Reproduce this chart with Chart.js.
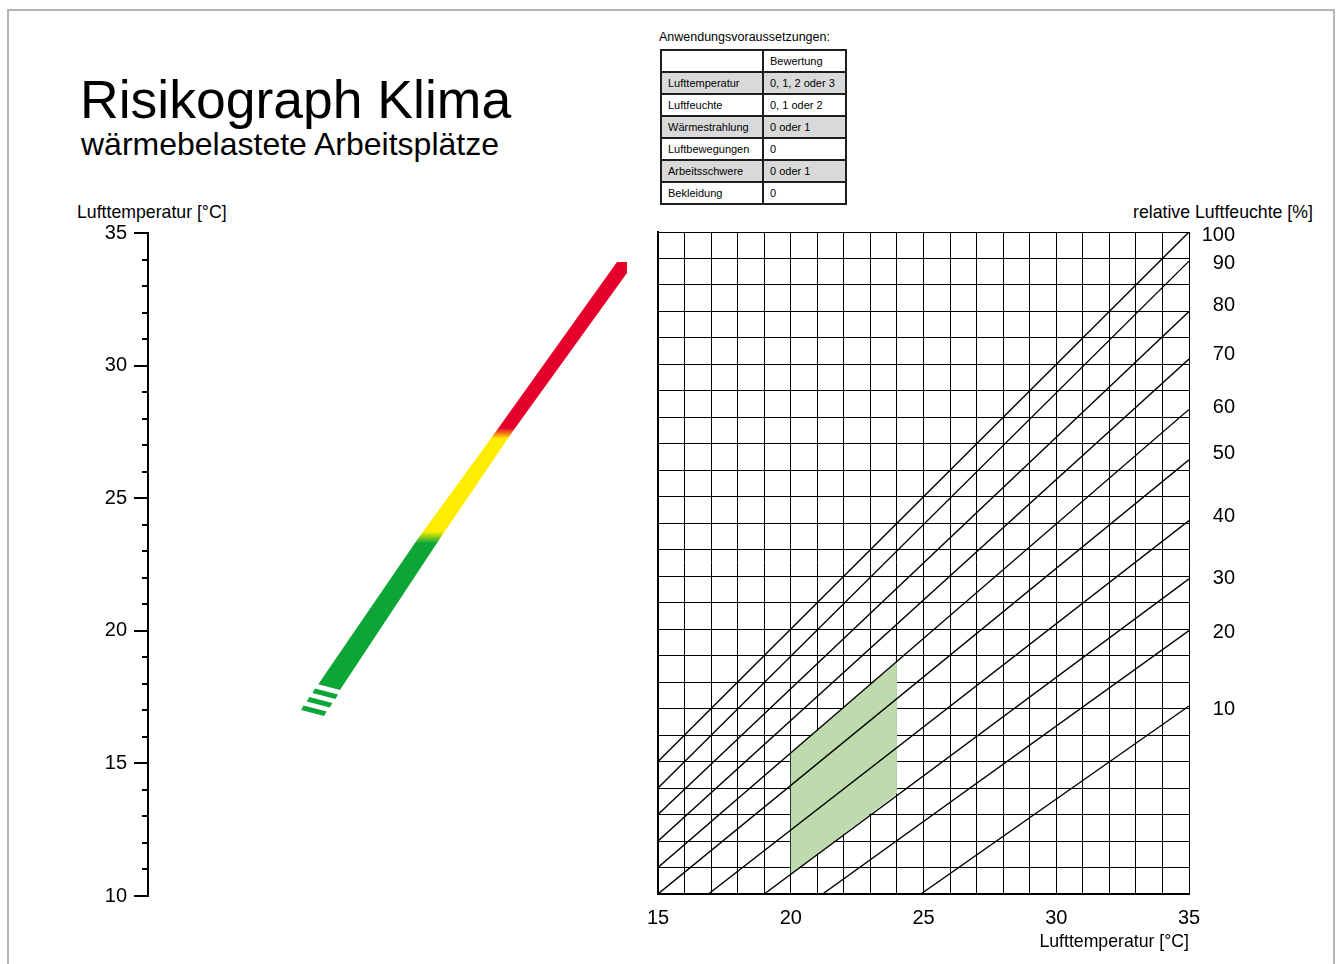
<!DOCTYPE html>
<html lang="de">
<head>
<meta charset="utf-8">
<title>Risikograph Klima</title>
<script src="https://cdn.jsdelivr.net/npm/chart.js@4.4.1/dist/chart.umd.min.js"></script>
<style>
    html, body { margin: 0; padding: 0; background: #fff; }
    body { width: 1338px; height: 964px; position: relative; overflow: hidden;
           font-family: "Liberation Sans", Arial, sans-serif; color: #000; }
    .frame { position: absolute; left: 7px; top: 9px; width: 1328px; height: 1100px;
             box-sizing: border-box; border: 2px solid #b4b4b4; }
    .txt { position: absolute; white-space: nowrap; line-height: 1; }
    #title { left: 80px; top: 73px; font-size: 53.5px; }
    #subtitle { left: 81px; top: 128px; font-size: 32px; }
    #tempTitle { left: 77px; top: 204px; font-size: 17.7px; }
    #rhTitle { left: 1133px; top: 204px; font-size: 17.7px; }
    #condTitle { left: 659px; top: 31px; font-size: 12.5px; }
    #cond { position: absolute; left: 660px; top: 49px; width: 185px; table-layout: fixed;
            border-collapse: collapse; font-size: 11px; }
    #cond td { border: 2px solid #1e1e1e; height: 20px; padding: 0 0 0 6px; line-height: 20px;
               white-space: nowrap; overflow: hidden; }
    #cond tr.shade td { background: #d9d9d9; }
    canvas { position: absolute; }
    #leftChart { left: 0; top: 190px; }
    #rightChart { left: 600px; top: 190px; }
</style>
</head>
<body>
<div class="frame"></div>
<div class="txt" id="title">Risikograph Klima</div>
<div class="txt" id="subtitle">wärmebelastete Arbeitsplätze</div>
<div class="txt" id="tempTitle">Lufttemperatur [°C]</div>
<div class="txt" id="rhTitle">relative Luftfeuchte [%]</div>
<div class="txt" id="condTitle">Anwendungsvoraussetzungen:</div>
<table id="cond">
    <colgroup><col style="width:102px"><col style="width:83px"></colgroup>
    <tbody id="condBody"></tbody>
</table>
<canvas id="leftChart" width="640" height="774"></canvas>
<canvas id="rightChart" width="738" height="774"></canvas>

<script>
/***  Risikograph Klima  ***/

/* Tabelle */
var condFactors = ['Lufttemperatur', 'Luftfeuchte', 'Wärmestrahlung', 'Luftbewegungen', 'Arbeitsschwere', 'Bekleidung'];
var condRatings = ['0, 1, 2 oder 3', '0, 1 oder 2', '0 oder 1', '0', '0 oder 1', '0'];
var condHeader = 'Bewertung';

/* linke Skala, Lufttemperatur in °C */
var tempMin = 10;
var tempMax = 35;
var tempMajorStep = 5;
var tempMinorStep = 1;

/* Farbband: x = relative Lage (0..100), y = °C */
var bandLeft = [[35.55, 17.98], [56.16, 23.42], [72.86, 27.57], [97.91, 33.91]];
var bandRight = [[100.0, 33.91], [100.0, 33.49], [76.20, 27.53], [60.75, 23.42], [40.08, 17.77]];
var bandZones = [23.3, 23.75, 27.25, 27.65];   // grün -> gelb, gelb -> rot
var stripes = [
    [[34.86, 17.82], [39.67, 17.60], [39.14, 17.43], [34.34, 17.65]],
    [[33.67, 17.50], [38.48, 17.28], [37.95, 17.11], [33.15, 17.33]],
    [[32.48, 17.18], [37.29, 16.96], [36.76, 16.79], [31.96, 17.01]]
];

/* rechtes Diagramm */
var airMin = 15;
var airMax = 35;
var rhLevels = [100, 90, 80, 70, 60, 50, 40, 30, 20, 10];
var rhStart = [[15, 15], [15, 14], [15, 13], [15, 12], [15, 11], [15, 10], [16.9, 10], [19.0, 10], [21.2, 10], [24.9, 10]];
var rhEnd = [[35, 35], [35, 33.9], [35, 32.0], [35, 30.2], [35, 28.3], [35, 26.4], [35, 24.1], [35, 21.9], [35, 19.95], [35, 17.1]];
var rhLabelAt = [34.86, 33.81, 32.22, 30.39, 28.37, 26.62, 24.24, 21.91, 19.89, 16.95];
var comfortZone = [[20, 15.3], [24, 18.75], [24, 13.8], [20, 10.76]];

function toPoints(list) {
    return list.map(function (p) { return { x: p[0], y: p[1] }; });
}

/* Tabelle aufbauen */
(function buildTable() {
    var body = document.getElementById('condBody');
    var html = '<tr><td></td><td>' + condHeader + '</td></tr>';
    for (var i = 0; i < condFactors.length; i++) {
        html += '<tr' + (i % 2 === 0 ? ' class="shade"' : '') + '><td>' + condFactors[i] + '</td><td>' + condRatings[i] + '</td></tr>';
    }
    body.innerHTML = html;
})();

Chart.defaults.font.family = '"Liberation Sans", Arial, sans-serif';
Chart.defaults.color = '#000';

var GREEN = '#0ca637', YELLOW = '#ffed00', RED = '#e4002b';

function bandColor(context) {
    var chart = context.chart;
    var y = chart.scales.y;
    if (!chart.chartArea || !y) return GREEN;
    var g = chart.ctx.createLinearGradient(0, y.getPixelForValue(tempMin), 0, y.getPixelForValue(tempMax));
    var f = function (t) { return (t - tempMin) / (tempMax - tempMin); };
    g.addColorStop(0, GREEN);
    g.addColorStop(f(bandZones[0]), GREEN);
    g.addColorStop(f(bandZones[1]), YELLOW);
    g.addColorStop(f(bandZones[2]), YELLOW);
    g.addColorStop(f(bandZones[3]), RED);
    g.addColorStop(1, RED);
    return g;
}

/* linkes Diagramm: Skala + Farbband */
var leftSets = [{
    data: toPoints(bandLeft.concat(bandRight)),
    showLine: true,
    fill: 'shape',
    backgroundColor: bandColor,
    borderColor: 'transparent',
    borderWidth: 0,
    clip: 0
}];
stripes.forEach(function (s) {
    leftSets.push({
        data: toPoints(s),
        showLine: true,
        fill: 'shape',
        backgroundColor: GREEN,
        borderColor: 'transparent',
        borderWidth: 0,
        clip: 0
    });
});

new Chart(document.getElementById('leftChart'), {
    type: 'scatter',
    data: { datasets: leftSets },
    options: {
        responsive: false,
        animation: false,
        events: [],
        layout: { padding: { left: 60, top: 43, right: 13, bottom: 68 } },
        elements: { point: { radius: 0 } },
        plugins: { legend: { display: false }, tooltip: { enabled: false } },
        scales: {
            x: { type: 'linear', display: false, min: 0, max: 100 },
            y: {
                type: 'linear', position: 'left', weight: 1, min: tempMin, max: tempMax,
                ticks: { stepSize: tempMajorStep, padding: 7, color: '#000', font: { size: 20 } },
                grid: { drawOnChartArea: false, drawTicks: true, tickLength: 14, color: '#000', lineWidth: 2 },
                border: { display: true, color: '#000', width: 2 },
                afterFit: function (s) { s.width = 88; }
            },
            yMinor: {
                type: 'linear', position: 'left', weight: 0, min: tempMin, max: tempMax,
                ticks: { stepSize: tempMinorStep, display: false },
                grid: { drawOnChartArea: false, drawTicks: true, tickLength: 6, color: '#000', lineWidth: 2 },
                border: { display: false },
                afterFit: function (s) { s.width = 0; }
            }
        }
    }
});

/* rechtes Diagramm: Netz mit Linien gleicher rel. Luftfeuchte */
var rightSets = [{
    data: toPoints(comfortZone),
    showLine: true,
    fill: 'shape',
    backgroundColor: '#bddbad',
    borderColor: 'transparent',
    borderWidth: 0,
    order: 2
}];
rhLevels.forEach(function (lvl, i) {
    rightSets.push({
        label: lvl + ' %',
        data: toPoints([rhStart[i], rhEnd[i]]),
        showLine: true,
        borderColor: '#000',
        borderWidth: 1.4,
        order: 1
    });
});

new Chart(document.getElementById('rightChart'), {
    type: 'scatter',
    data: { datasets: rightSets },
    options: {
        responsive: false,
        animation: false,
        events: [],
        layout: { padding: { left: 58, top: 42, right: 103, bottom: 0 } },
        elements: { point: { radius: 0 } },
        plugins: { legend: { display: false }, tooltip: { enabled: false } },
        scales: {
            x: {
                type: 'linear', position: 'bottom', min: airMin, max: airMax, z: 1,
                ticks: {
                    stepSize: 1, autoSkip: false, maxRotation: 0, padding: 12, font: { size: 20 },
                    callback: function (v) { return v % 5 === 0 ? v : ''; }
                },
                grid: { color: '#000', lineWidth: 1, drawTicks: false },
                border: { display: true, color: '#000', width: 2 },
                title: {
                    display: true, text: 'Lufttemperatur [°C]', align: 'end',
                    font: { size: 17.7 }, padding: { top: 0, bottom: 11.5 }
                },
                afterFit: function (s) { s.height = 70; }
            },
            y: {
                type: 'linear', position: 'left', min: tempMin, max: tempMax, z: 1,
                ticks: { stepSize: 1, display: false, autoSkip: false },
                grid: { color: '#000', lineWidth: 1, drawTicks: false },
                border: { display: true, color: '#000', width: 2 },
                afterFit: function (s) { s.width = 0; }
            },
            rh: {
                type: 'linear', position: 'right', min: tempMin, max: tempMax,
                afterBuildTicks: function (s) {
                    s.ticks = rhLabelAt.map(function (v) { return { value: v }; });
                },
                ticks: {
                    autoSkip: false, padding: 12, crossAlign: 'far', font: { size: 20 },
                    callback: function (v, i) { return String(rhLevels[i]); }
                },
                grid: { display: false, drawTicks: false },
                border: { display: false },
                afterFit: function (s) { s.width = 46; }
            }
        }
    }
});
</script>
</body>
</html>
